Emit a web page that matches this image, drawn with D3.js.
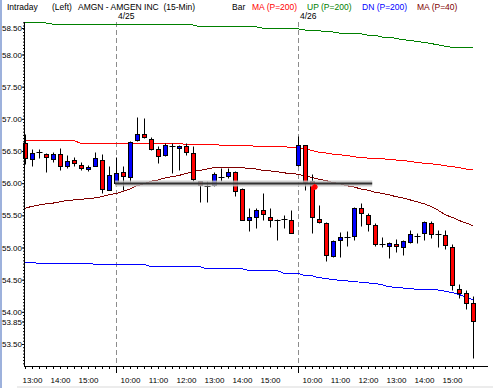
<!DOCTYPE html>
<html>
<head>
<meta charset="utf-8">
<script src="https://cdn.jsdelivr.net/npm/d3@7"></script>
<style>
  html, body { margin: 0; padding: 0; background: #fff; }
  svg { display: block; font-family: "Liberation Sans", Arial, sans-serif; }
</style>
</head>
<body>
<div id="container"></div>
<script>
// Fixed frame, same size as the screenshot
const WIDTH = 493;
const HEIGHT = 388;
const PLOT = { LEFT: 24, RIGHT: 488, TOP: 22, BOTTOM: 366 };

// ---- data ----
const sessionDates = ['4/24', '4/25', '4/26'];
const sessionStart = ['12:45', '09:30', '09:30'];
const sessionBars = [13, 26, 26];

const open = [56.62, 56.38, 56.48, 56.45, 56.38, 56.45, 56.27, 56.36, 56.29, 56.22, 56.27, 56.36, 55.90,
  56.01, 56.17, 56.09, 56.67, 56.76, 56.68, 56.53, 56.43, 56.58, 56.54, 56.57, 56.47, 56.04, 55.96, 55.97,
  56.09, 56.11, 56.18, 55.91, 55.42, 55.48, 55.58, 55.48, 55.42, 55.44, 55.43,
  56.29, 56.59, 56.03, 55.44, 55.38, 54.87, 55.11, 55.17, 55.18, 55.61, 55.51, 55.35, 55.05, 55.02, 55.05,
  55.00, 55.09, 55.18, 55.22, 55.38, 55.21, 55.19, 55.01, 54.35, 54.29, 54.13];
const high = [56.76, 56.53, 56.53, 56.47, 56.49, 56.54, 56.44, 56.41, 56.33, 56.28, 56.49, 56.46, 56.27,
  56.41, 56.26, 56.66, 57.03, 57.01, 56.72, 56.57, 56.62, 56.63, 56.60, 56.62, 56.58, 56.04, 56.03, 56.18,
  56.24, 56.24, 56.19, 55.92, 55.62, 55.62, 55.84, 55.62, 55.44, 55.51, 55.58,
  56.73, 56.59, 56.15, 55.66, 55.39, 55.12, 55.24, 55.26, 55.63, 55.69, 55.53, 55.38, 55.16, 55.09, 55.13,
  55.12, 55.27, 55.23, 55.41, 55.41, 55.27, 55.27, 55.05, 54.43, 54.34, 54.24];
const low = [56.30, 56.27, 56.39, 56.17, 56.33, 56.20, 56.24, 56.26, 56.20, 56.19, 56.26, 55.84, 55.89,
  56.00, 55.89, 56.02, 56.66, 56.70, 56.52, 56.32, 56.42, 56.16, 56.20, 56.43, 56.04, 55.70, 55.70, 55.96,
  56.03, 56.08, 55.80, 55.42, 55.26, 55.30, 55.43, 55.32, 55.12, 55.30, 55.22,
  56.26, 55.89, 55.23, 55.38, 54.79, 54.86, 54.86, 55.03, 55.11, 55.34, 55.26, 55.02, 55.01, 54.84, 54.93,
  54.89, 55.07, 55.07, 55.12, 55.14, 55.01, 54.98, 54.34, 54.21, 54.05, 53.29];
const close = [56.39, 56.47, 56.48, 56.41, 56.45, 56.26, 56.35, 56.31, 56.23, 56.25, 56.39, 55.91, 56.13,
  56.16, 56.11, 56.64, 56.76, 56.71, 56.53, 56.42, 56.59, 56.58, 56.58, 56.48, 56.06, 55.97, 55.96, 56.14,
  56.09, 56.17, 55.88, 55.43, 55.47, 55.58, 55.52, 55.43, 55.42, 55.44, 55.23,
  56.59, 56.02, 55.47, 55.39, 54.88, 55.10, 55.16, 55.17, 55.61, 55.53, 55.36, 55.05, 55.05, 55.07, 55.02,
  55.10, 55.21, 55.18, 55.39, 55.21, 55.21, 55.04, 54.41, 54.30, 54.14, 53.85];

const ma200 = [56.66, 56.66, 56.66, 56.66, 56.66, 56.66, 56.66, 56.66,
  56.62, 56.62, 56.62, 56.62, 56.62, 56.62, 56.62, 56.62, 56.62, 56.62, 56.62, 56.62, 56.62, 56.62, 56.62,
  56.60, 56.60, 56.60, 56.60, 56.60, 56.59, 56.59, 56.59, 56.59, 56.59, 56.57, 56.57, 56.57, 56.57, 56.57,
  56.55, 56.55, 56.53, 56.51, 56.48, 56.47, 56.45, 56.44, 56.43, 56.41, 56.40, 56.39, 56.38, 56.38, 56.37,
  56.36, 56.35, 56.34, 56.32, 56.31, 56.30, 56.29, 56.27, 56.26, 56.24, 56.22, 56.21];
const up200 = [58.49, 58.49, 58.49, 58.49, 58.47, 58.47,
  58.46, 58.46, 58.46, 58.46, 58.46, 58.46, 58.46, 58.46, 58.46, 58.46, 58.46, 58.46, 58.46, 58.46, 58.46,
  58.46, 58.46, 58.46, 58.46, 58.43, 58.43, 58.43, 58.43, 58.43, 58.43, 58.43, 58.43, 58.43,
  58.41, 58.41, 58.41, 58.40, 58.40, 58.40, 58.38, 58.37, 58.37, 58.35, 58.35, 58.33, 58.33, 58.32, 58.32,
  58.30, 58.30, 58.27, 58.27, 58.25, 58.23, 58.22, 58.20, 58.19, 58.17, 58.15, 58.13,
  58.11, 58.11, 58.11, 58.11];
const dn200 = [54.77, 54.77, 54.75, 54.75, 54.75, 54.75, 54.75, 54.75, 54.75, 54.75,
  54.74, 54.74, 54.74, 54.74, 54.74, 54.74, 54.74, 54.74, 54.70, 54.70, 54.70, 54.70, 54.70, 54.70, 54.70,
  54.70, 54.67, 54.67, 54.67, 54.67, 54.67, 54.67, 54.64, 54.64, 54.64, 54.64, 54.64, 54.60, 54.60, 54.60,
  54.56, 54.56, 54.53, 54.52, 54.50, 54.49, 54.48, 54.47, 54.46, 54.45, 54.44, 54.42, 54.39, 54.38, 54.37,
  54.36, 54.35, 54.34, 54.34, 54.34, 54.32, 54.30, 54.27, 54.23, 54.19];
const ma40 = [55.61, 55.64, 55.66, 55.68, 55.69, 55.71, 55.73, 55.74, 55.75, 55.76, 55.77, 55.79, 55.82,
  55.84, 55.87, 55.91, 55.96, 55.99, 56.03, 56.05, 56.08, 56.10, 56.12, 56.15, 56.18, 56.20, 56.22, 56.24,
  56.24, 56.25, 56.24, 56.24, 56.23, 56.22, 56.20, 56.19, 56.18, 56.16, 56.15,
  56.14, 56.11, 56.09, 56.06, 56.04, 56.01, 55.99, 55.96, 55.94, 55.91, 55.89, 55.86, 55.84, 55.82, 55.79,
  55.77, 55.74, 55.71, 55.68, 55.64, 55.58, 55.51, 55.47, 55.42, 55.38, 55.34];

// horizontal line drawn by the user: price and the bars it spans
const trendPrice = 56.00;
const trendBars = [13, 49.6];

const yLabels = [58.5, 58, 57.5, 57, 56.5, 56, 55.5, 55, 54.5, 54, 53.5];

const headerItems = [
  { text: 'Intraday', color: '#000', x: 7 },
  { text: '(Left)', color: '#000', x: 52 },
  { text: 'AMGN - AMGEN INC  (15-Min)', color: '#000', x: 78 },
  { text: 'Bar', color: '#000', x: 232 },
  { text: 'MA (P=200)', color: '#ff0000', x: 252 },
  { text: 'UP (P=200)', color: '#008000', x: 307 },
  { text: 'DN (P=200)', color: '#0000ff', x: 362 },
  { text: 'MA (P=40)', color: '#800000', x: 417 }
];

// ---- bar times (categories) ----
const times = [];
const sessionFirst = [];
sessionStart.forEach((s, k) => {
  const [h, m] = s.split(':').map(Number);
  sessionFirst.push(times.length);
  for (let j = 0; j < sessionBars[k]; j++) {
    const t = h * 60 + m + 15 * j;
    times.push(`${String(Math.floor(t / 60)).padStart(2, '0')}:${String(t % 60).padStart(2, '0')}`);
  }
});

const candles = times.map((t, i) => ({ i, t, o: open[i], h: high[i], l: low[i], c: close[i] }));

// ---- scales ----
const x = d3.scaleLinear()
            .domain([0, times.length - 1])
            .range([25, 473]);

const y = d3.scaleLinear()
            .domain([53.158, 58.505])
            .range([PLOT.BOTTOM, PLOT.TOP]);

const px = v => Math.round(v) + 0.5;

const svg = d3.select('#container')
              .append('svg')
                .attr('width', WIDTH)
                .attr('height', HEIGHT);

svg.append('rect').attr('width', WIDTH).attr('height', HEIGHT).attr('fill', '#fff');
// window edge on the left, scrollbar strip at the bottom
svg.append('rect').attr('x', 0).attr('y', 0).attr('width', 2).attr('height', HEIGHT).attr('fill', '#9db1dc');
svg.append('rect').attr('x', 17).attr('y', 386).attr('width', WIDTH - 17).attr('height', 2).attr('fill', '#ececec');

// header
svg.append('g')
   .selectAll('text')
   .data(headerItems)
   .join('text')
     .attr('x', d => d.x)
     .attr('y', 9.5)
     .attr('font-size', '8.5px')
     .attr('fill', d => d.color)
     .style('white-space', 'pre')
     .text(d => d.text);

// session separators + dates
const seps = sessionFirst.slice(1);
svg.append('g')
   .selectAll('line')
   .data(seps)
   .join('line')
     .attr('x1', d => px(x(d))).attr('x2', d => px(x(d)))
     .attr('y1', PLOT.TOP).attr('y2', PLOT.BOTTOM)
     .attr('stroke', '#8c8c8c')
     .attr('stroke-dasharray', '5,3');

svg.append('g')
   .selectAll('text')
   .data(seps)
   .join('text')
     .attr('x', d => x(d) + 2)
     .attr('y', 18.5)
     .attr('font-size', '8.5px')
     .text(d => sessionDates[sessionFirst.indexOf(d)]);

// indicator lines
const lineGen = d3.line().x((d, i) => x(i)).y(d => y(d));
const series = [
  { values: up200, color: '#008000' },
  { values: ma200, color: '#ff0000' },
  { values: dn200, color: '#0000ff' },
  { values: ma40, color: '#800000' }
];
svg.append('g')
   .selectAll('path')
   .data(series)
   .join('path')
     .attr('d', d => lineGen(d.values))
     .attr('fill', 'none')
     .attr('stroke', d => d.color)
     .attr('stroke-width', 1)
     .attr('shape-rendering', 'crispEdges');

// candles
const cg = svg.append('g').attr('class', 'candles');
cg.selectAll('line.wick')
  .data(candles)
  .join('line')
    .attr('class', 'wick')
    .attr('x1', d => px(x(d.i))).attr('x2', d => px(x(d.i)))
    .attr('y1', d => px(y(d.h))).attr('y2', d => px(y(d.l)))
    .attr('stroke', '#000');

cg.selectAll('rect')
  .data(candles.filter(d => d.o !== d.c))
  .join('rect')
    .attr('x', d => px(x(d.i)) - 2)
    .attr('y', d => px(y(Math.max(d.o, d.c))))
    .attr('width', 4)
    .attr('height', d => Math.max(2, px(y(Math.min(d.o, d.c))) - px(y(Math.max(d.o, d.c)))))
    .attr('fill', d => d.c > d.o ? '#0000ff' : '#ff0000')
    .attr('stroke', '#000');

cg.selectAll('line.doji')
  .data(candles.filter(d => d.o === d.c))
  .join('line')
    .attr('class', 'doji')
    .attr('x1', d => px(x(d.i)) - 3).attr('x2', d => px(x(d.i)) + 3)
    .attr('y1', d => px(y(d.c))).attr('y2', d => px(y(d.c)))
    .attr('stroke', '#000');

// the drawn horizontal line, with its soft shadow
const tg = svg.append('g');
tg.append('line')
  .attr('x1', x(trendBars[0]) - 1).attr('x2', x(trendBars[1]))
  .attr('y1', px(y(trendPrice))).attr('y2', px(y(trendPrice)))
  .attr('stroke', '#c4c4c4').attr('stroke-width', 6).attr('opacity', 0.8);
tg.append('line')
  .attr('x1', x(trendBars[0]) - 1).attr('x2', x(trendBars[1]))
  .attr('y1', px(y(trendPrice))).attr('y2', px(y(trendPrice)))
  .attr('stroke', '#333').attr('stroke-width', 2);

// little red cursor mark at the end of the click
const defs = svg.append('defs');
defs.append('filter').attr('id', 'soft')
    .append('feGaussianBlur').attr('stdDeviation', 0.7);
svg.append('path')
   .attr('transform', `translate(${x(41.4)},${y(55.94)})`)
   .attr('d', 'M-3,0H3M0,-3V3M-2,-2L2,2M-2,2L2,-2')
   .attr('stroke', '#ff0000').attr('stroke-width', 1.6)
   .attr('filter', 'url(#soft)');

// ---- y axis ----
const yAxisG = svg.append('g').attr('transform', `translate(${PLOT.LEFT},0)`);
yAxisG.call(d3.axisLeft(y)
               .tickValues(d3.range(53.2, 58.52, 0.05))
               .tickSize(1)
               .tickSizeOuter(0)
               .tickFormat(''));
yAxisG.call(g => g.select('.domain').remove());

const yLab = svg.append('g').attr('transform', `translate(${PLOT.LEFT},0)`);
yLab.call(d3.axisLeft(y)
             .tickValues(yLabels.concat([close[close.length - 1]]))
             .tickSize(2)
             .tickSizeOuter(0)
             .tickFormat(d3.format('.2f')));
yLab.call(g => g.select('.domain').remove());
yLab.selectAll('.tick')
    .attr('transform', d => `translate(0,${Math.max(y(d), PLOT.TOP + 6) + 0.5})`);
yLab.selectAll('text')
    .attr('x', -2)
    .attr('font-size', '8px')
    .attr('font-family', '"Liberation Sans", Arial, sans-serif')
    .attr('fill', '#000');

svg.append('line')
   .attr('x1', PLOT.LEFT + 0.5).attr('x2', PLOT.LEFT + 0.5)
   .attr('y1', PLOT.TOP).attr('y2', PLOT.BOTTOM + 1)
   .attr('stroke', '#000');

// ---- x axis ----
const xAxisG = svg.append('g').attr('transform', `translate(0,${PLOT.BOTTOM})`);
xAxisG.call(d3.axisBottom(x)
               .tickValues(d3.range(times.length))
               .tickSize(3)
               .tickSizeOuter(0)
               .tickFormat(''));
xAxisG.call(g => g.select('.domain').remove());

const hourBars = times.map((t, i) => i).filter(i => times[i].endsWith(':00'));
const xLab = svg.append('g').attr('transform', `translate(0,${PLOT.BOTTOM})`);
xLab.call(d3.axisBottom(x)
             .tickValues(hourBars)
             .tickSize(3)
             .tickSizeOuter(0)
             .tickFormat(i => times[i]));
xLab.call(g => g.select('.domain').remove());
xLab.selectAll('text')
    .attr('y', 17)
    .attr('dy', 0)
    .attr('font-size', '8px')
    .attr('font-family', '"Liberation Sans", Arial, sans-serif')
    .attr('fill', '#000');

svg.append('g')
   .attr('transform', `translate(0,${PLOT.BOTTOM})`)
   .call(d3.axisBottom(x).tickValues(seps).tickSize(7).tickSizeOuter(0).tickFormat(''))
   .call(g => g.select('.domain').remove());

svg.append('line')
   .attr('x1', PLOT.LEFT).attr('x2', PLOT.RIGHT)
   .attr('y1', PLOT.BOTTOM + 0.5).attr('y2', PLOT.BOTTOM + 0.5)
   .attr('stroke', '#000');
</script>
</body>
</html>
